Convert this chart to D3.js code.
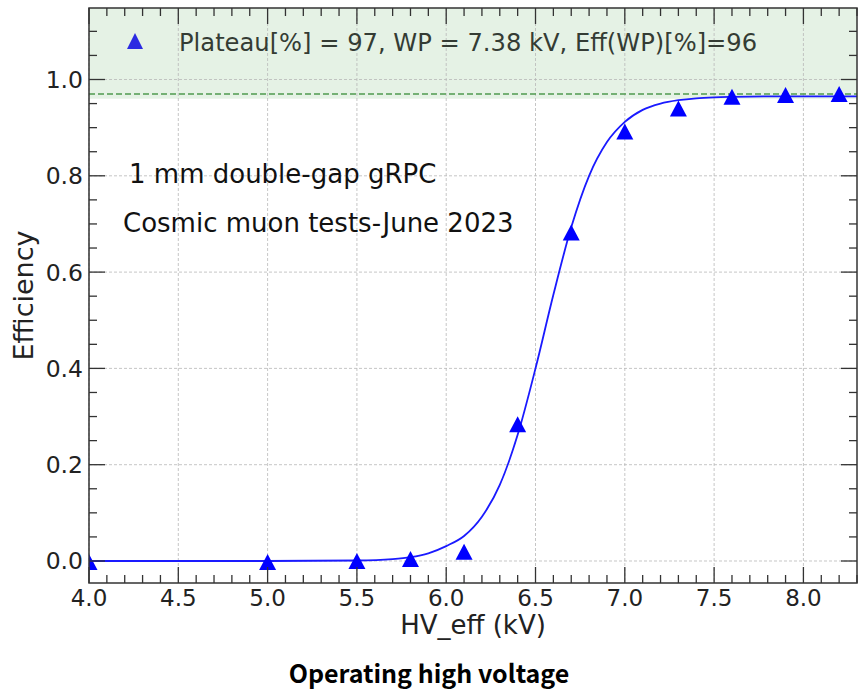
<!DOCTYPE html>
<html>
<head>
<meta charset="utf-8">
<script src="https://cdn.jsdelivr.net/npm/d3@7"></script>
<style>
  body { margin: 0; background: #fff; }
  text { font-family: "DejaVu Sans", sans-serif; }
</style>
</head>
<body>
<svg id="chart" width="858" height="691"></svg>
<script>
// Measured efficiency per effective high voltage step
const hvPoints  = [4.0, 5.0, 5.5, 5.8, 6.1, 6.4, 6.7, 7.0, 7.3, 7.6, 7.9, 8.2];
const effPoints = [-0.002, -0.002, 0.0, 0.004, 0.019, 0.284, 0.682, 0.892, 0.940, 0.964, 0.968, 0.970];

// Sigmoid fit curve sampled along HV_eff
const fitHV  = [4.0, 4.5, 5.0, 5.5, 5.7, 5.8, 5.9, 6.0, 6.1, 6.2, 6.3, 6.4, 6.5, 6.6, 6.7, 6.8, 6.9, 7.0, 7.1, 7.2, 7.3, 7.4, 7.5, 7.6, 7.8, 8.0, 8.3];
const fitEff = [0.0, 0.0, 0.0, 0.001, 0.004, 0.008, 0.016, 0.031, 0.052, 0.092, 0.158, 0.262, 0.400, 0.553, 0.693, 0.800, 0.870, 0.912, 0.937, 0.950, 0.957, 0.961, 0.963, 0.964, 0.965, 0.965, 0.965];

const xTickLabels = ["4.0", "4.5", "5.0", "5.5", "6.0", "6.5", "7.0", "7.5", "8.0"];
const yTickLabels = ["0.0", "0.2", "0.4", "0.6", "0.8", "1.0"];

const plateau = 0.97;   // plateau efficiency
const effAtWP = 0.96;   // efficiency at the working point
const legendText = "Plateau[%] = 97, WP = 7.38 kV, Eff(WP)[%]=96";
const notes = ["1 mm double-gap gRPC", "Cosmic muon tests-June 2023"];

const margin = { left: 89, top: 8, right: 1, bottom: 108 };
const W = 858, H = 691;
const iw = W - margin.left - margin.right;
const ih = H - margin.top - margin.bottom;

const svg = d3.select("#chart");
const g = svg.append("g").attr("transform", `translate(${margin.left},${margin.top})`);

const x = d3.scaleLinear().domain([4.0, 8.3]).range([0, iw]);
const y = d3.scaleLinear().domain([-0.0457, 1.1485]).range([ih, 0]);

svg.append("defs").append("clipPath").attr("id", "plotClip")
  .append("rect").attr("width", iw).attr("height", ih);

// shaded plateau band
g.append("rect")
  .attr("x", 0).attr("width", iw)
  .attr("y", y(y.domain()[1])).attr("height", y(effAtWP) - y(y.domain()[1]))
  .attr("fill", "rgba(0,128,0,0.1)");

// grid
const xMajor = xTickLabels.map(Number);
const yMajor = yTickLabels.map(Number);
const grid = g.append("g").attr("stroke", "#b8b8b8").attr("stroke-width", 0.8).attr("stroke-dasharray", "3,2");
grid.selectAll("line.gx").data(xMajor).join("line")
  .attr("x1", d => x(d)).attr("x2", d => x(d)).attr("y1", 0).attr("y2", ih);
grid.selectAll("line.gy").data(yMajor).join("line")
  .attr("y1", d => y(d)).attr("y2", d => y(d)).attr("x1", 0).attr("x2", iw);

// plateau line
g.append("line")
  .attr("x1", 0).attr("x2", iw).attr("y1", y(plateau)).attr("y2", y(plateau))
  .attr("stroke", "#4f9a4f").attr("stroke-width", 1.5).attr("stroke-dasharray", "6,3");

const plot = g.append("g").attr("clip-path", "url(#plotClip)");

// fit curve
const fitData = fitHV.map((v, i) => [v, fitEff[i]]);
plot.append("path")
  .datum(fitData)
  .attr("fill", "none")
  .attr("stroke", "#1a1aff")
  .attr("stroke-width", 1.8)
  .attr("d", d3.line().x(d => x(d[0])).y(d => y(d[1])).curve(d3.curveMonotoneX));

// triangle marker centred on its bounding box
const tri = (w, h) => `M0,${-h / 2}L${w / 2},${h / 2}L${-w / 2},${h / 2}Z`;
plot.selectAll("path.pt").data(hvPoints.map((v, i) => [v, effPoints[i]])).join("path")
  .attr("class", "pt")
  .attr("transform", d => `translate(${x(d[0])},${y(d[1])})`)
  .attr("d", tri(17, 16))
  .attr("fill", "#0000ff");

// axes with inward ticks on all sides
const tickColor = "#333";
function drawTicks(values, orient, len) {
  const sel = g.append("g").attr("stroke", tickColor).attr("stroke-width", 1.3);
  values.forEach(v => {
    if (orient === "bottom") sel.append("line").attr("x1", x(v)).attr("x2", x(v)).attr("y1", ih).attr("y2", ih - len);
    if (orient === "top") sel.append("line").attr("x1", x(v)).attr("x2", x(v)).attr("y1", 0).attr("y2", len);
    if (orient === "left") sel.append("line").attr("y1", y(v)).attr("y2", y(v)).attr("x1", 0).attr("x2", len);
    if (orient === "right") sel.append("line").attr("y1", y(v)).attr("y2", y(v)).attr("x1", iw).attr("x2", iw - len);
  });
}
const xMinor = d3.range(40, 84).map(d => d / 10).filter(v => Math.abs(v * 2 - Math.round(v * 2)) > 1e-6);
const yMinor = d3.range(0, 23).map(d => d * 0.05).filter(v => v <= 1.148 && Math.abs(v * 5 - Math.round(v * 5)) > 1e-6);
["bottom", "top"].forEach(o => { drawTicks(xMajor, o, 16); drawTicks(xMinor, o, 8); });
["left", "right"].forEach(o => { drawTicks(yMajor, o, 16); drawTicks(yMinor, o, 8); });

// frame
g.append("rect").attr("width", iw).attr("height", ih)
  .attr("fill", "none").attr("stroke", tickColor).attr("stroke-width", 1.5);

// tick labels
g.selectAll("text.xt").data(xTickLabels).join("text")
  .attr("x", d => x(+d)).attr("y", ih + 23)
  .attr("text-anchor", "middle").attr("font-size", 23).attr("fill", "#222")
  .text(d => d);
g.selectAll("text.yt").data(yTickLabels).join("text")
  .attr("x", -6).attr("y", d => y(+d)).attr("dy", "0.36em")
  .attr("text-anchor", "end").attr("font-size", 23.5).attr("fill", "#222")
  .text(d => d);

// axis titles
g.append("text").attr("x", iw / 2).attr("y", ih + 51)
  .attr("text-anchor", "middle").attr("font-size", 26).attr("fill", "#222")
  .text("HV_eff (kV)");
svg.append("text")
  .attr("transform", `translate(33,${margin.top + ih / 2}) rotate(-90)`)
  .attr("text-anchor", "middle").attr("font-size", 27).attr("fill", "#222")
  .text("Efficiency");
svg.append("text")
  .attr("x", 429).attr("y", 683)
  .attr("text-anchor", "middle").attr("font-size", 25).attr("font-weight", "bold")
  .style("font-family", "'Noto Sans CJK JP', sans-serif")
  .attr("fill", "#000")
  .text("Operating high voltage");

// legend
const leg = svg.append("g");
leg.append("path").attr("transform", "translate(135,41)").attr("d", tri(16, 16)).attr("fill", "#2b2be2");
leg.append("text").attr("x", 179).attr("y", 51).attr("font-size", 24.2).attr("fill", "#343c34").text(legendText);

// annotations
svg.append("text").attr("x", 129).attr("y", 183).attr("font-size", 26).attr("fill", "#111").text(notes[0]);
svg.append("text").attr("x", 123).attr("y", 232).attr("font-size", 26).attr("fill", "#111").text(notes[1]);
</script>
</body>
</html>
